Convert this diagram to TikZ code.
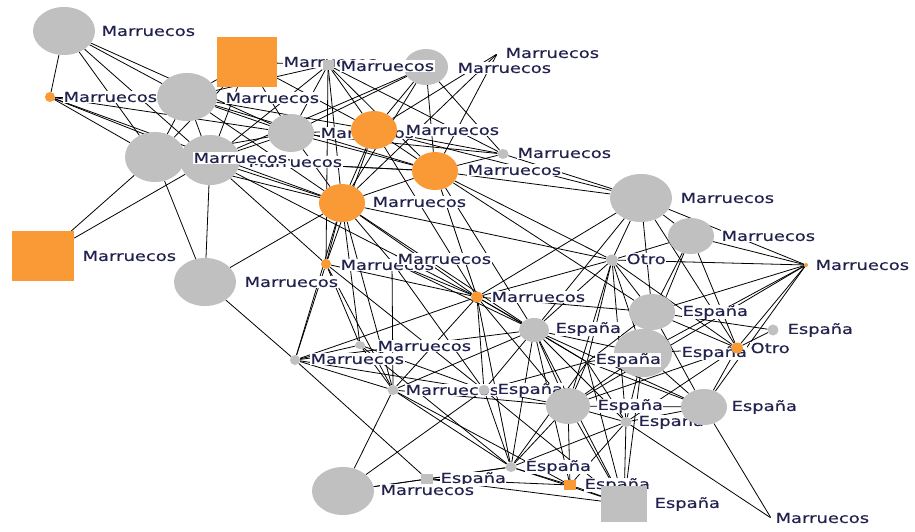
\documentclass[tikz,border=0pt]{standalone}
\usepackage{fontspec}
\newfontfamily\labfont{DejaVu Sans}[FakeStretch=1.3,FakeBold=0.4]
\usetikzlibrary{shapes.geometric}
\definecolor{ngray}{HTML}{C0C0C0}
\definecolor{norange}{HTML}{FA9A36}
\definecolor{ntext}{HTML}{22224E}
\pgfdeclarelayer{bg}
\pgfdeclarelayer{paper}
\pgfsetlayers{paper,bg,main}
\tikzset{
  gball/.style={ellipse, fill=ngray, draw=none, inner sep=0pt},
  oball/.style={ellipse, fill=norange, draw=none, inner sep=0pt},
  gsq/.style={rectangle, fill=ngray, draw=none, inner sep=0pt},
  osq/.style={rectangle, fill=norange, draw=none, inner sep=0pt},
  hid/.style={circle, inner sep=0pt, minimum size=1pt},
  sz/.style 2 args={minimum width=#1pt, minimum height=#2pt},
  lab/.style={anchor=west, fill=white, inner sep=0.4pt, text=ntext,
    font=\labfont\fontsize{13.8}{14}\selectfont},
  edge/.style={draw=black, line width=0.8pt},
}
\begin{document}
\begin{tikzpicture}[x=1pt,y=-1pt]
\begin{pgfonlayer}{paper}
\useasboundingbox[fill=white] (0,0) rectangle (915,531);
\end{pgfonlayer}

% nodes and their labels, in stacking order
\node[gball,sz={62}{48}] (a) at (64,31) {};
\node[lab] (la) at (101,31) {Marruecos};
\node[oball,sz={10}{10}] (f) at (50,97) {};
\node[lab] (lf) at (63,97) {Marruecos};
\node[gball,sz={60}{48}] (g) at (187,97) {};
\node[lab] (lg) at (225,98) {Marruecos};
\node[gball,sz={60}{50}] (k) at (210,160) {};
\node[lab] (lk) at (248,162) {Marruecos};
\node[gball,sz={60}{50}] (j) at (155,157) {};
\node[lab] (lj) at (193,158) {Marruecos};
\node[gball,sz={46}{38}] (h) at (291,133) {};
\node[lab] (lh) at (320,133) {Marruecos};
\node[oball,sz={46}{38}] (i) at (374,130) {};
\node[lab] (li) at (405,130) {Marruecos};
\node[gball,sz={44}{36}] (d) at (426,67) {};
\node[lab] (ld) at (457,68) {Marruecos};
\node[hid] (e) at (497,54) {};
\node[lab] (le) at (505,53) {Marruecos};
\node[osq,sz={60}{50}] (b) at (247,62) {};
\node[lab] (lb) at (283,62) {Marruecos};
\node[gsq,sz={11}{10}] (c) at (328,65) {};
\node[lab] (lc) at (340,66) {Marruecos};
\node[oball,sz={46}{38}] (l) at (435,171) {};
\node[lab] (ll) at (467,170) {Marruecos};
\node[gball,sz={11}{10}] (m) at (503,154) {};
\node[lab] (lm) at (517,153) {Marruecos};
\node[oball,sz={46}{38}] (n) at (342,203) {};
\node[lab] (ln) at (372,202) {Marruecos};
\node[osq,sz={62}{50}] (o) at (43,256) {};
\node[lab] (lo) at (82,256) {Marruecos};
\node[gball,sz={62}{48}] (p) at (205,282) {};
\node[lab] (lp) at (244,282) {Marruecos};
\node[oball,sz={10}{10}] (q) at (326,264) {};
\node[lab] (lq) at (340,265) {Marruecos};
\node[hid] (r) at (392,262) {};
\node[lab] (lr) at (397,259) {Marruecos};
\node[gball,sz={62}{48}] (s) at (641,198) {};
\node[lab] (ls) at (680,198) {Marruecos};
\node[gball,sz={46}{36}] (t) at (691,236) {};
\node[lab] (lt) at (721,236) {Marruecos};
\node[gball,sz={12}{11}] (u) at (612,260) {};
\node[lab] (lu) at (626,259) {Otro};
\node[oball,sz={4}{4}] (v) at (806,265) {};
\node[lab] (lv) at (815,265) {Marruecos};
\node[oball,sz={12}{11}] (w) at (477,297) {};
\node[lab] (lw) at (491,297) {Marruecos};
\node[gball,sz={30}{24}] (x) at (534,330) {};
\node[lab] (lx) at (555,329) {España};
\node[gball,sz={46}{36}] (y) at (652,312) {};
\node[lab] (ly) at (682,312) {España};
\node[gball,sz={11}{11}] (z) at (773,330) {};
\node[lab] (lz) at (787,330) {España};
\node[gball,sz={58}{48}] (aa) at (643,353) {};
\node[lab] (laa) at (681,353) {España};
\node[hid] (sp) at (587,362) {};
\node[lab] (lsp) at (595,360) {España};
\node[oball,sz={12}{11}] (ab) at (737,348) {};
\node[lab] (lxab) at (750,348) {Otro};
\node[gball,sz={10}{10}] (ac) at (295,360) {};
\node[lab] (lac) at (310,359) {Marruecos};
\node[gball,sz={10}{8}] (ad) at (360,345) {};
\node[lab] (lad) at (377,346) {Marruecos};
\node[gball,sz={11}{10}] (ae) at (393,390) {};
\node[lab] (lae) at (405,390) {Marruecos};
\node[gball,sz={11}{10}] (af) at (484,390) {};
\node[lab] (laf) at (497,390) {España};
\node[gball,sz={44}{36}] (ag) at (568,406) {};
\node[lab] (lag) at (597,406) {España};
\node[gball,sz={11}{10}] (ai) at (626,422) {};
\node[lab] (lai) at (638,422) {España};
\node[gball,sz={46}{36}] (ah) at (704,407) {};
\node[lab] (lah) at (731,407) {España};
\node[gball,sz={11}{10}] (aj) at (511,467) {};
\node[lab] (laj) at (525,467) {España};
\node[gsq,sz={12}{10}] (ak) at (427,479) {};
\node[lab] (lak) at (440,479) {España};
\node[gball,sz={62}{48}] (al) at (343,491) {};
\node[lab] (lal) at (380,490) {Marruecos};
\node[osq,sz={12}{10}] (am) at (570,485) {};
\node[lab] (lam) at (584,485) {España};
\node[gsq,sz={46}{36}] (an) at (624,504) {};
\node[lab] (lan) at (654,504) {España};
\node[hid] (ao) at (771,518) {};
\node[lab] (lao) at (775,518) {Marruecos};

% connectors, underneath the nodes and labels
\begin{pgfonlayer}{bg}
\foreach \p/\q in {
  a/f, a/j, a/g, a/h, a/k,
  f/j, f/k, f/h, f/g, f/n,
  b/g, b/c, b/h, b/i, b/j, b/k,
  c/i, c/h, c/n, c/l, c/m, c/d, c/g, c/k, c/q,
  d/i, d/n, d/l, d/h, d/k, d/m,
  e/i, e/l, e/n,
  g/j, g/k, g/h, g/i, g/l, g/n,
  h/i, h/l, h/n, h/k, h/j, h/m,
  i/n, i/l, i/m, i/q, i/w, i/s,
  j/o, j/p, j/n, j/l, j/k,
  k/o, k/p, k/n, k/l, k/q, k/w,
  l/n, l/m, l/w, l/s, l/u, l/x, l/y,
  n/q, n/w, n/r, n/ac, n/ad, n/x, n/ae, n/u,
  p/ac, p/n,
  q/w, q/ac, q/ae, q/af, q/ad,
  r/w, r/ae, r/af, r/x,
  s/u, s/t, s/y, s/w, s/x, s/m, s/ab, s/v,
  t/u, t/y, t/aa, t/v, t/ab,
  u/x, u/y, u/aa, u/sp, u/ag, u/w, u/v, u/ai, u/ab,
  v/ab, v/aa, v/ah, v/y, v/ag,
  w/x, w/af, w/ae, w/ag, w/aj, w/sp, w/ac, w/y,
  x/sp, x/ag, x/aa, x/af, x/ai, x/aj, x/ah, x/ae, x/am, x/an, x/ac,
  y/ab, y/aa, y/z, y/ah, y/sp,
  z/ab, aa/ab, aa/ah, aa/ag, aa/ai, aa/an, aa/sp,
  ab/ah, ab/ai, ab/ag,
  ac/ae, ac/af, ac/ak, ac/ad,
  ad/af, ad/ae, ad/aj,
  ae/al, ae/aj, ae/ag, ae/am,
  af/ag, af/aj, af/an, af/sp,
  ag/ai, ag/ah, ag/aj, ag/am, ag/an, ag/sp,
  ah/ai, ah/ao, ah/sp,
  ai/an, ai/aj, ai/am, ai/ao,
  aj/ak, aj/an, aj/am, aj/al,
  ak/al, ak/an, ak/am, al/af, an/am,
  sp/ai, sp/an, sp/aj}
  \draw[edge] (\p) -- (\q);
\end{pgfonlayer}
\end{tikzpicture}
\end{document}
